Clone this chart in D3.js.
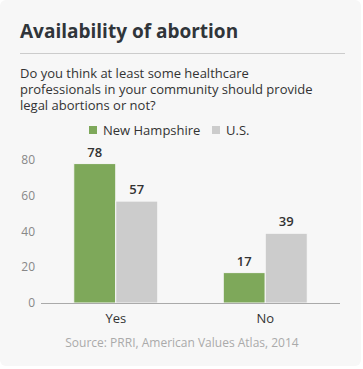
<!DOCTYPE html>
<html>
<head>
<meta charset="utf-8">
<script src="https://cdn.jsdelivr.net/npm/d3@7"></script>
<style>
  body { margin: 0; background: #fff; font-family: "Open Sans", sans-serif; }
</style>
</head>
<body>
<div id="chart"></div>
<script>
var categories = ["Yes", "No"];
var seriesNames = ["New Hampshire", "U.S."];
var newHampshire = [78, 17];
var us = [57, 39];
var yTicks = [0, 20, 40, 60, 80];
var colors = ["#7ea85a", "#cccccc"];

var W = 363, H = 369;
var svg = d3.select("#chart").append("svg")
  .attr("width", W).attr("height", H);

// card background
svg.append("rect")
  .attr("x", 0).attr("y", 0)
  .attr("width", 361).attr("height", 366)
  .attr("rx", 6)
  .attr("fill", "#f7f7f7");

svg.append("text")
  .attr("x", 20).attr("y", 37.5)
  .attr("font-size", 19).attr("font-weight", "bold")
  .attr("fill", "#30353a")
  .text("Availability of abortion");

svg.append("line")
  .attr("x1", 20).attr("x2", 345)
  .attr("y1", 53.5).attr("y2", 53.5)
  .attr("stroke", "#ccc");

var sub = ["Do you think at least some healthcare",
           "professionals in your community should provide",
           "legal abortions or not?"];
svg.append("g").selectAll("text").data(sub).enter().append("text")
  .attr("x", 20)
  .attr("y", function(d, i) { return 78 + i * 15.8; })
  .attr("font-size", 13).attr("fill", "#333")
  .text(function(d) { return d; });

// legend
var legendX = [89, 212];
var lg = svg.append("g").selectAll("g").data(seriesNames).enter().append("g")
  .attr("transform", function(d, i) { return "translate(" + legendX[i] + ",126)"; });
lg.append("rect").attr("width", 8).attr("height", 8)
  .attr("fill", function(d, i) { return colors[i]; });
lg.append("text").attr("x", 14).attr("y", 8.5)
  .attr("font-size", 13).attr("fill", "#333")
  .text(function(d) { return d; });

var x = d3.scaleBand().domain(categories).range([41, 340]);
var xs = d3.scaleBand().domain(seriesNames).range([0, 84]);
var y = d3.scaleLinear().domain([0, 80]).range([303, 160]);

// y labels
svg.append("g").selectAll("text").data(yTicks).enter().append("text")
  .attr("x", 35).attr("y", function(d) { return y(d) + 4; })
  .attr("text-anchor", "end")
  .attr("font-size", 12).attr("fill", "#888")
  .text(function(d) { return d; });

var data = categories.map(function(c, i) {
  return {cat: c, vals: [newHampshire[i], us[i]]};
});

var groups = svg.append("g").selectAll("g").data(data).enter().append("g")
  .attr("transform", function(d) {
    return "translate(" + (x(d.cat) + x.bandwidth() / 2 - 42) + ",0)";
  });

groups.selectAll("rect").data(function(d) {
    return d.vals.map(function(v, i) { return {name: seriesNames[i], v: v, i: i}; });
  }).enter().append("rect")
  .attr("x", function(d) { return xs(d.name); })
  .attr("width", xs.bandwidth())
  .attr("y", function(d) { return y(d.v); })
  .attr("height", function(d) { return y(0) - y(d.v); })
  .attr("fill", function(d) { return colors[d.i]; })
  .attr("stroke", "#f7f7f7").attr("stroke-width", 1);

groups.selectAll("text").data(function(d) {
    return d.vals.map(function(v, i) { return {name: seriesNames[i], v: v}; });
  }).enter().append("text")
  .attr("x", function(d) { return xs(d.name) + xs.bandwidth() / 2; })
  .attr("y", function(d) { return y(d.v) - 7; })
  .attr("text-anchor", "middle")
  .attr("font-size", 13).attr("font-weight", 600).attr("fill", "#333")
  .text(function(d) { return d.v; });

// axis line
svg.append("line")
  .attr("x1", 41).attr("x2", 340)
  .attr("y1", y(0) + 0.5).attr("y2", y(0) + 0.5)
  .attr("stroke", "#aaa");

var xAxis = svg.append("g")
  .attr("transform", "translate(0," + (y(0) + 1) + ")")
  .call(d3.axisBottom(x).tickSize(0).tickPadding(10));
xAxis.select(".domain").remove();
xAxis.selectAll("text")
  .attr("font-size", 13).attr("font-family", "Open Sans").attr("fill", "#333");

svg.append("text")
  .attr("x", 182).attr("y", 347)
  .attr("text-anchor", "middle")
  .attr("font-size", 12).attr("fill", "#aaa")
  .text("Source: PRRI, American Values Atlas, 2014");
</script>
</body>
</html>
